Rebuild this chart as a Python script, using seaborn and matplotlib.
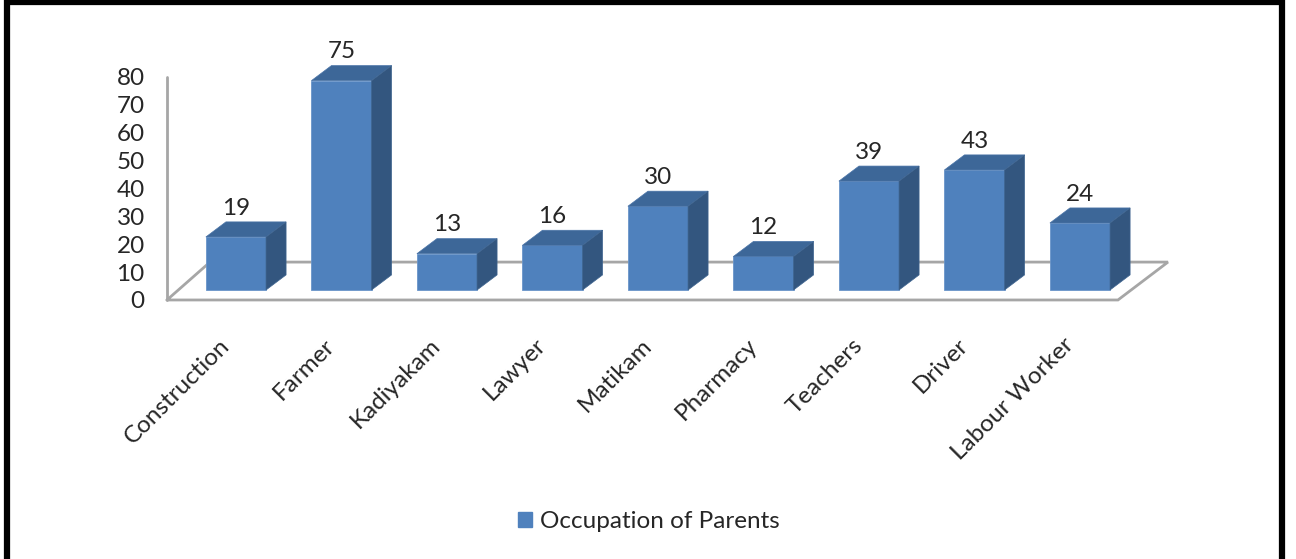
import matplotlib
matplotlib.use('Agg')
import matplotlib.pyplot as plt
import matplotlib.transforms as mtransforms
from matplotlib.patches import Polygon, Patch
from matplotlib.lines import Line2D
import seaborn as sns
import pandas as pd

# data
occupations = ["Construction", "Farmer", "Kadiyakam", "Lawyer", "Matikam",
               "Pharmacy", "Teachers", "Driver", "Labour Worker"]
counts = [19, 75, 13, 16, 30, 12, 39, 43, 24]
y_ticks = [0, 10, 20, 30, 40, 50, 60, 70, 80]
series_name = "Occupation of Parents"

front_col = '#4F81BD'
top_col = '#3D6798'
side_col = '#33567F'
floor_col = '#A6A6A6'
fs = 17.5

sns.set_style('white')
plt.rcParams['font.family'] = ['Lato', 'DejaVu Sans']
plt.rcParams['font.size'] = fs

df = pd.DataFrame({"Occupation": occupations, "Count": counts})

fig = plt.figure(figsize=(12.96, 5.59), dpi=100)
W, H = 1296, 559
# axes in pixel box: x 160..1180, y 60..310 (from top)
ax = fig.add_axes([160 / W, 1 - 310 / H, 1020 / W, 250 / H])

sns.barplot(data=df, x="Occupation", y="Count", color=front_col, saturation=1,
            width=0.57, ax=ax, zorder=3, edgecolor='#6A95C9', linewidth=0.6)

ax.set_xlim(-0.720, 8.948)
ax.set_ylim(-7.17, 82.4)

# pseudo-3D depth (data units)
dx, dy = 0.19, 5.4
for p in ax.patches:
    x0 = p.get_x()
    w = p.get_width()
    h = p.get_height()
    top = Polygon([(x0, h), (x0 + dx, h + dy), (x0 + w + dx, h + dy), (x0 + w, h)],
                  closed=True, facecolor=top_col, edgecolor='#4A74A8', lw=0.5, zorder=3)
    side = Polygon([(x0 + w, 0), (x0 + w + dx, dy), (x0 + w + dx, h + dy), (x0 + w, h)],
                   closed=True, facecolor=side_col, edgecolor='#3F6590', lw=0.5, zorder=3)
    ax.add_patch(top)
    ax.add_patch(side)
    ax.text(x0 + w / 2, h + dy + 1.2, f'{int(h)}', ha='center', va='bottom',
            fontsize=fs, zorder=4)

# floor and wall lines
front_y, back_y = -3.58, 10.0
fl_x, fr_x, bl_x, br_x = -0.654, 8.36, -0.246, 8.834
ax.plot([fl_x, fr_x, br_x, bl_x, fl_x], [front_y, front_y, back_y, back_y, front_y],
        color=floor_col, lw=2, zorder=1, solid_joinstyle='miter')
ax.plot([fl_x, fl_x], [front_y, 76.4], color=floor_col, lw=2, zorder=1)

sns.despine(ax=ax, left=True, bottom=True)
ax.set_xlabel('')
ax.set_ylabel('')
ax.set_yticks([t + front_y for t in y_ticks])
ax.set_yticklabels([str(t) for t in y_ticks], fontsize=fs)
ax.tick_params(axis='y', length=0, pad=11)
ax.tick_params(axis='x', length=0, pad=23)
ax.set_xticks(range(len(occupations)))
ax.set_xticklabels(occupations, rotation=45, ha='right', va='center',
                   rotation_mode='anchor', fontsize=fs)
shift = mtransforms.ScaledTranslation(-10 / 100, 0, fig.dpi_scale_trans)
for lbl in ax.get_xticklabels():
    lbl.set_transform(lbl.get_transform() + shift)

handle = Patch(facecolor=front_col, edgecolor=front_col)
fig.legend([handle], [series_name], loc='center', bbox_to_anchor=(0.5004, 0.0662),
           frameon=False, fontsize=fs, handlelength=0.58, handleheight=0.58,
           handletextpad=0.33)

# outer border
def px(x, y):
    return (x / W, 1 - y / H)

bx = [px(7, 559), px(7, 2), px(1282, 2), px(1282, 559)]
fig.add_artist(Line2D([b[0] for b in bx], [b[1] for b in bx], color='black',
                      lw=4.5, transform=fig.transFigure, solid_joinstyle='miter'))

fig.savefig('out.png', dpi=100)
